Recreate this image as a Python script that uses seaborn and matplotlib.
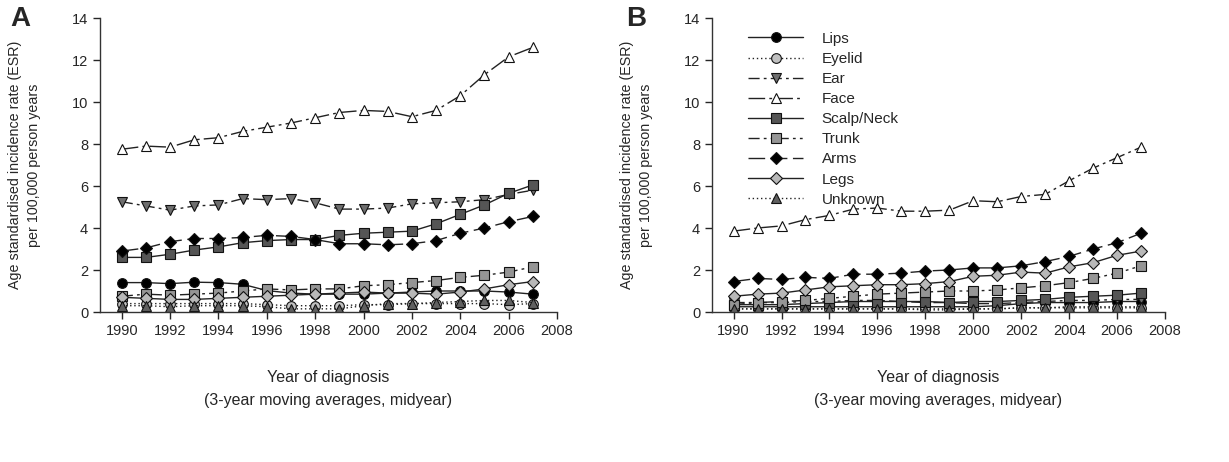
import numpy as np
import pandas as pd
import matplotlib
matplotlib.use("Agg")
import matplotlib.pyplot as plt
import seaborn as sns

years = list(range(1990, 2008))
sites = ["Lips", "Eyelid", "Ear", "Face", "Scalp/Neck", "Trunk", "Arms", "Legs", "Unknown"]

# Panel A
a_lips = [1.40, 1.40, 1.35, 1.42, 1.40, 1.32, 1.02, 0.90, 0.85, 0.85, 0.85, 0.90, 0.95, 1.00, 1.00, 1.00, 0.95, 0.85]
a_eyelid = [0.40, 0.40, 0.40, 0.40, 0.40, 0.40, 0.35, 0.30, 0.30, 0.30, 0.35, 0.35, 0.40, 0.40, 0.40, 0.40, 0.35, 0.40]
a_ear = [5.25, 5.05, 4.85, 5.05, 5.10, 5.40, 5.35, 5.40, 5.20, 4.90, 4.90, 4.95, 5.15, 5.20, 5.25, 5.35, 5.60, 5.80]
a_face = [7.75, 7.90, 7.85, 8.20, 8.30, 8.60, 8.80, 9.00, 9.25, 9.50, 9.60, 9.55, 9.30, 9.60, 10.30, 11.30, 12.15, 12.60]
a_scalp = [2.60, 2.60, 2.75, 2.95, 3.10, 3.30, 3.40, 3.45, 3.45, 3.65, 3.75, 3.80, 3.85, 4.20, 4.65, 5.10, 5.65, 6.05]
a_trunk = [0.75, 0.85, 0.80, 0.85, 0.90, 1.00, 1.10, 1.05, 1.10, 1.10, 1.25, 1.30, 1.40, 1.50, 1.65, 1.75, 1.90, 2.15]
a_arms = [2.90, 3.05, 3.35, 3.50, 3.50, 3.55, 3.65, 3.60, 3.45, 3.25, 3.25, 3.20, 3.25, 3.40, 3.75, 4.00, 4.30, 4.55]
a_legs = [0.70, 0.65, 0.60, 0.60, 0.65, 0.70, 0.75, 0.80, 0.85, 0.90, 0.95, 0.90, 0.90, 0.85, 0.95, 1.10, 1.30, 1.45]
a_unknown = [0.30, 0.30, 0.25, 0.30, 0.30, 0.30, 0.25, 0.15, 0.15, 0.15, 0.30, 0.40, 0.40, 0.45, 0.50, 0.55, 0.55, 0.45]

# Panel B
b_lips = [0.25, 0.25, 0.25, 0.25, 0.25, 0.25, 0.25, 0.25, 0.25, 0.25, 0.25, 0.30, 0.40, 0.45, 0.45, 0.45, 0.50, 0.50]
b_eyelid = [0.15, 0.15, 0.15, 0.15, 0.15, 0.15, 0.15, 0.15, 0.15, 0.15, 0.15, 0.15, 0.20, 0.20, 0.20, 0.20, 0.20, 0.20]
b_ear = [0.45, 0.45, 0.45, 0.50, 0.50, 0.55, 0.55, 0.50, 0.45, 0.45, 0.40, 0.40, 0.45, 0.50, 0.55, 0.55, 0.60, 0.60]
b_face = [3.85, 4.00, 4.10, 4.40, 4.60, 4.90, 4.95, 4.80, 4.80, 4.85, 5.30, 5.25, 5.50, 5.60, 6.25, 6.85, 7.35, 7.85]
b_scalp = [0.35, 0.35, 0.35, 0.40, 0.45, 0.50, 0.50, 0.50, 0.50, 0.45, 0.50, 0.50, 0.55, 0.60, 0.70, 0.75, 0.80, 0.90]
b_trunk = [0.35, 0.45, 0.50, 0.55, 0.65, 0.75, 0.85, 0.90, 0.95, 1.00, 1.00, 1.05, 1.15, 1.25, 1.40, 1.60, 1.85, 2.20]
b_arms = [1.45, 1.60, 1.55, 1.65, 1.60, 1.80, 1.80, 1.85, 1.95, 2.00, 2.10, 2.10, 2.20, 2.40, 2.65, 3.00, 3.30, 3.75]
b_legs = [0.75, 0.85, 0.90, 1.05, 1.20, 1.25, 1.30, 1.30, 1.35, 1.45, 1.70, 1.75, 1.90, 1.85, 2.15, 2.35, 2.70, 2.90]
b_unknown = [0.15, 0.15, 0.15, 0.15, 0.15, 0.15, 0.15, 0.15, 0.10, 0.10, 0.15, 0.15, 0.20, 0.20, 0.25, 0.25, 0.25, 0.25]

panel_a = [a_lips, a_eyelid, a_ear, a_face, a_scalp, a_trunk, a_arms, a_legs, a_unknown]
panel_b = [b_lips, b_eyelid, b_ear, b_face, b_scalp, b_trunk, b_arms, b_legs, b_unknown]

styles = {
    "Lips": dict(marker="o", mfc="#000000", ls="-"),
    "Eyelid": dict(marker="o", mfc="#c0c0c0", ls=(0, (1, 2))),
    "Ear": dict(marker="v", mfc="#6e6e6e", ls=(0, (8, 3, 2, 3))),
    "Face": dict(marker="^", mfc="#ffffff", ls=(0, (12, 3, 2, 3))),
    "Scalp/Neck": dict(marker="s", mfc="#555555", ls="-"),
    "Trunk": dict(marker="s", mfc="#959595", ls=(0, (8, 3, 2, 3, 2, 3))),
    "Arms": dict(marker="D", mfc="#000000", ls=(0, (12, 4))),
    "Legs": dict(marker="D", mfc="#b8b8b8", ls="-"),
    "Unknown": dict(marker="^", mfc="#606060", ls=(0, (1, 2))),
}

sns.set_style("ticks")
plt.rcParams['font.family'] = ['Liberation Sans', 'DejaVu Sans']

fig = plt.figure(figsize=(12.29, 4.62), dpi=100)
ax_a = fig.add_axes([100/1229, 1 - 312/462, 457/1229, 294/462])
ax_b = fig.add_axes([712/1229, 1 - 312/462, 453/1229, 294/462])

for ax, data in [(ax_a, panel_a), (ax_b, panel_b)]:
    for name, vals in zip(sites, data):
        st = styles[name]
        ms = 7 if st["marker"] != "D" else 6
        df = pd.DataFrame({"year": years, "rate": vals})
        sns.lineplot(data=df, x="year", y="rate", ax=ax, color="#222222",
                     linestyle=st["ls"], linewidth=1.0, marker=st["marker"],
                     markersize=ms, markerfacecolor=st["mfc"],
                     markeredgecolor="#111111", markeredgewidth=0.8,
                     label=name, legend=False)
    ax.set_xlim(1989.1, 2008)
    ax.set_ylim(0, 14)
    ax.set_xticks(range(1990, 2009, 2))
    ax.set_yticks(range(0, 15, 2))
    ax.tick_params(labelsize=10.5, length=5, width=1, direction="out")
    for s in ["top", "right"]:
        ax.spines[s].set_visible(False)
    for s in ["left", "bottom"]:
        ax.spines[s].set_linewidth(1.0)
        ax.spines[s].set_color("#333333")
    ax.set_xlabel("Year of diagnosis\n(3-year moving averages, midyear)",
                  fontsize=11.5, linespacing=1.7, labelpad=23)
    ax.set_ylabel("Age standardised incidence rate (ESR)\nper 100,000 person years",
                  fontsize=10.3, labelpad=22, linespacing=1.45)

ax_b.legend(loc="upper left", bbox_to_anchor=(0.05, 1.0), frameon=False,
            fontsize=11, handlelength=3.6, labelspacing=0.4, handletextpad=1.2)

fig.text(10/1229, 1 - 6/462, "A", fontsize=20, fontweight="bold", va="top", ha="left")
fig.text(626/1229, 1 - 6/462, "B", fontsize=20, fontweight="bold", va="top", ha="left")

fig.savefig("out.png", dpi=100)
